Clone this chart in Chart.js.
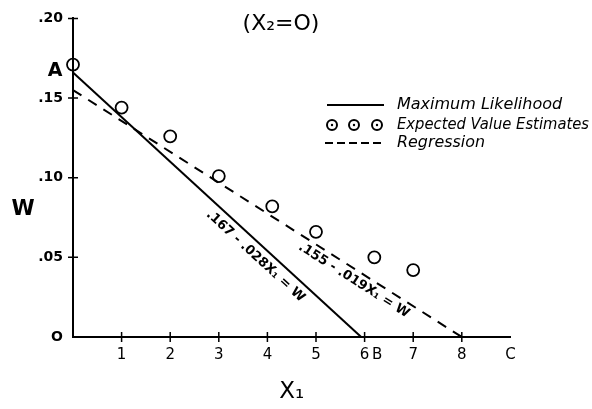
<!DOCTYPE html>
<html>
<head>
<meta charset="utf-8">
<script src="https://cdn.jsdelivr.net/npm/chart.js@4"></script>
<style>
  html, body { margin: 0; padding: 0; background: #fff; }
  #chart { display: block; }
</style>
</head>
<body>
<canvas id="chart" width="592" height="409"></canvas>
<script>
// values
const estX = [0, 1, 2, 3, 4.1, 5, 6.2, 7];
const estW = [0.171, 0.144, 0.126, 0.101, 0.082, 0.066, 0.050, 0.042];
const mlX = [0, 5.93];
const mlW = [0.166, 0];
const regX = [0, 8];
const regW = [0.155, 0];

const xTickVals = [1, 2, 3, 4, 5, 6, 6.26, 7, 8, 9];
const xTickLabels = ['1', '2', '3', '4', '5', '6', 'B', '7', '8', 'C'];
const xTickMarks = [1, 2, 3, 4, 5, 6, 7, 8];
const yTickVals = [0, 0.05, 0.10, 0.15, 0.20];
const yTickLabels = ['O', '.05', '.10', '.15', '.20'];
const yTickMarks = [0.05, 0.10, 0.15, 0.20];

const seriesNames = ['Maximum Likelihood', 'Expected Value Estimates', 'Regression'];
const lineLabels = ['.167 - .028X\u2081 = W', '.155 - .019X\u2081 = W'];

const toPoints = (xs, ys) => xs.map((v, i) => ({ x: v, y: ys[i] }));
const FONT = '"DejaVu Sans", sans-serif';

const extras = {
    id: 'extras',
    afterDraw(chart) {
        const { ctx, chartArea: a, scales: { x, y } } = chart;
        ctx.save();
        ctx.fillStyle = '#000';
        ctx.strokeStyle = '#000';

        // tick marks crossing the axes
        ctx.lineWidth = 1.5;
        ctx.beginPath();
        xTickMarks.forEach(v => {
            const px = x.getPixelForValue(v);
            ctx.moveTo(px, a.bottom - 5);
            ctx.lineTo(px, a.bottom + 5);
        });
        yTickMarks.forEach(v => {
            const py = y.getPixelForValue(v);
            ctx.moveTo(a.left - 5, py);
            ctx.lineTo(a.left + 5, py);
        });
        ctx.stroke();

        // equations along the two lines
        const lineLabel = (text, xs, ws, at, offset) => {
            const x0 = x.getPixelForValue(xs[0]), y0 = y.getPixelForValue(ws[0]);
            const x1 = x.getPixelForValue(xs[1]), y1 = y.getPixelForValue(ws[1]);
            const t = (at - xs[0]) / (xs[1] - xs[0]);
            ctx.save();
            ctx.translate(x0 + t * (x1 - x0), y0 + t * (y1 - y0));
            ctx.rotate(Math.atan2(y1 - y0, x1 - x0));
            ctx.font = 'bold 13px ' + FONT;
            ctx.textAlign = 'center';
            ctx.textBaseline = 'middle';
            ctx.fillText(text, 0, offset);
            ctx.restore();
        };
        lineLabel(lineLabels[0], mlX, mlW, 3.92, 12);
        lineLabel(lineLabels[1], regX, regW, 5.89, 10);

        // title, W, A
        ctx.textAlign = 'center';
        ctx.textBaseline = 'middle';
        ctx.font = '22px ' + FONT;
        ctx.fillText('(X\u2082=O)', 281, 24);
        ctx.font = 'bold 21px ' + FONT;
        ctx.fillText('W', 23, 210);
        ctx.font = 'bold 19px ' + FONT;
        ctx.fillText('A', a.left - 18, y.getPixelForValue(0.167));

        // legend
        const rows = [105, 125, 143];
        ctx.lineWidth = 2;
        ctx.beginPath();
        ctx.moveTo(327, rows[0]);
        ctx.lineTo(384, rows[0]);
        ctx.stroke();
        [332, 354, 377].forEach(cx => {
            ctx.beginPath();
            ctx.arc(cx, rows[1], 5, 0, Math.PI * 2);
            ctx.stroke();
            ctx.beginPath();
            ctx.arc(cx, rows[1], 1.2, 0, Math.PI * 2);
            ctx.fill();
        });
        ctx.setLineDash([8, 4]);
        ctx.beginPath();
        ctx.moveTo(325, rows[2]);
        ctx.lineTo(385, rows[2]);
        ctx.stroke();
        ctx.setLineDash([]);
        ctx.font = 'italic 16px ' + FONT;
        ctx.textAlign = 'left';
        const widths = [178, 192, 88];
        seriesNames.forEach((s, i) => ctx.fillText(s, 397, rows[i], widths[i]));
        ctx.restore();
    }
};

new Chart(document.getElementById('chart'), {
    type: 'scatter',
    data: {
        datasets: [
            {
                label: seriesNames[0],
                type: 'line',
                data: toPoints(mlX, mlW),
                borderColor: '#000',
                borderWidth: 2,
                pointRadius: 0,
                clip: false
            },
            {
                label: seriesNames[1],
                data: toPoints(estX, estW),
                pointStyle: 'circle',
                pointRadius: 6,
                borderColor: '#000',
                borderWidth: 1.8,
                backgroundColor: 'rgba(0,0,0,0)',
                clip: false
            },
            {
                label: seriesNames[2],
                type: 'line',
                data: toPoints(regX, regW),
                borderColor: '#000',
                borderWidth: 2,
                borderDash: [10, 8],
                pointRadius: 0,
                clip: false
            }
        ]
    },
    options: {
        responsive: false,
        animation: false,
        events: [],
        layout: { padding: { left: 0, top: 15, right: 81.6, bottom: 0 } },
        plugins: {
            legend: { display: false },
            tooltip: { enabled: false }
        },
        scales: {
            x: {
                type: 'linear',
                min: 0,
                max: 9,
                afterFit: s => { s.height = 72; },
                afterBuildTicks: s => { s.ticks = xTickVals.map(v => ({ value: v })); },
                grid: { display: false, drawTicks: false },
                border: { display: true, color: '#000', width: 2 },
                ticks: {
                    autoSkip: false,
                    maxRotation: 0,
                    padding: 9,
                    color: '#000',
                    font: { family: FONT, size: 15 },
                    callback: v => xTickLabels[xTickVals.indexOf(v)]
                },
                title: {
                    display: true,
                    text: 'X\u2081',
                    color: '#000',
                    font: { family: FONT, size: 23 },
                    padding: { top: 0, bottom: 3 }
                }
            },
            y: {
                type: 'linear',
                min: 0,
                max: 0.2,
                afterFit: s => { s.width = 73; },
                afterBuildTicks: s => { s.ticks = yTickVals.map(v => ({ value: v })); },
                grid: { display: false, drawTicks: false },
                border: { display: true, color: '#000', width: 2 },
                ticks: {
                    padding: 10,
                    color: '#000',
                    font: { family: FONT, size: 14, weight: 'bold' },
                    callback: v => yTickLabels[yTickVals.indexOf(v)]
                }
            }
        }
    },
    plugins: [extras]
});
</script>
</body>
</html>
